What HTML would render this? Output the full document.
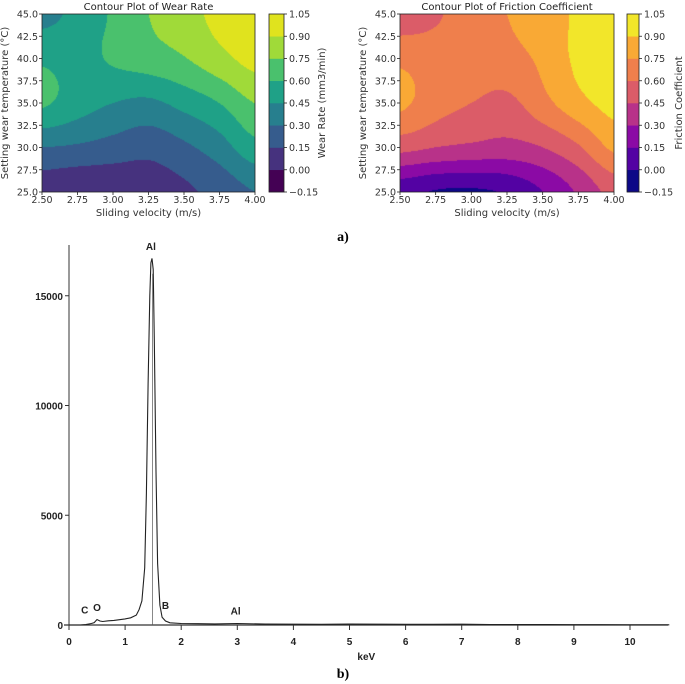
<!DOCTYPE html>
<html><head><meta charset="utf-8"><style>
html,body{margin:0;padding:0;background:#fff;}
#wrap{position:relative;width:685px;height:684px;overflow:hidden;font-family:"DejaVu Sans","Liberation Sans",sans-serif;}
canvas{position:absolute;}
svg{position:absolute;left:0;top:0;}
</style></head><body>
<div id="wrap">
<canvas id="c1" width="213" height="178" style="left:42px;top:14px"></canvas>
<canvas id="c2" width="214" height="178" style="left:400px;top:14px"></canvas>
<svg id="s" width="685" height="684"></svg>
</div>
<script>
// ---- data ----
const gridX = [2.5,2.75,3.0,3.25,3.5,3.75,4.0];
const gridY = [25,30,35,40,45];
const wearRows = [
 [0.05,0.01,0.02,0.06,0.12,0.20,0.30],
 [0.30,0.28,0.24,0.20,0.27,0.38,0.55],
 [0.62,0.52,0.45,0.42,0.50,0.60,0.75],
 [0.58,0.55,0.62,0.68,0.74,0.85,0.95],
 [0.40,0.50,0.62,0.75,0.83,0.95,1.00]];
const fricRows = [
 [0.05,-0.01,-0.02,0.02,0.15,0.32,0.50],
 [0.50,0.45,0.42,0.40,0.45,0.58,0.78],
 [0.78,0.66,0.60,0.56,0.70,0.85,0.95],
 [0.72,0.67,0.67,0.70,0.78,0.93,0.98],
 [0.50,0.58,0.68,0.75,0.82,0.92,0.95]];
const levels = [-0.15,0,0.15,0.30,0.45,0.60,0.75,0.90,1.05];
const levelLabels = ["\u22120.15","0.00","0.15","0.30","0.45","0.60","0.75","0.90","1.05"];
const viridis = ["#440154","#46327e","#365c8d","#277f8e","#1fa187","#4ac16d","#a0da39","#e0e31e"];
const plasma = ["#0d0887","#5302a3","#8b0aa5","#b83289","#db5c68","#ef7f4c","#f9a935","#f2e62a"];
const xTicks = ["2.50","2.75","3.00","3.25","3.50","3.75","4.00"];
const yTicks = ["25.0","27.5","30.0","32.5","35.0","37.5","40.0","42.5","45.0"];
const keV = [0,0.2,0.3,0.4,0.45,0.5,0.55,0.6,0.7,0.8,0.9,1.0,1.1,1.2,1.25,1.3,1.35,1.38,1.41,1.44,1.46,1.48,1.50,1.52,1.55,1.58,1.62,1.66,1.72,1.8,2.0,2.3,2.6,3.0,3.5,4.0,4.5,5.0,5.5,6.0,6.5,7.0,7.5,8.0,8.5,9.0,9.5,10.0,10.7];
const counts = [0,0,20,70,110,250,180,160,190,210,240,280,330,450,700,1100,2600,6000,11000,15000,16500,16700,16200,13000,7000,2800,900,350,180,100,70,60,50,70,40,35,30,40,35,30,30,35,25,20,20,15,15,10,10];
const spYTicks = [0,5000,10000,15000];
const spXTicks = [0,1,2,3,4,5,6,7,8,9,10];

// ---- contour rendering ----
function cr(p0,p1,p2,p3,t){return 0.5*((2*p1)+(-p0+p2)*t+(2*p0-5*p1+4*p2-p3)*t*t+(-p0+3*p1-3*p2+p3)*t*t*t);}
function interp(rows,gx,gy){
  const ny=rows.length,nx=rows[0].length;
  const ix=Math.min(Math.floor(gx),nx-2),iy=Math.min(Math.floor(gy),ny-2);
  const tx=gx-ix,ty=gy-iy;
  const g=(r,c)=>rows[Math.max(0,Math.min(ny-1,r))][Math.max(0,Math.min(nx-1,c))];
  const col=[];
  for(let k=-1;k<=2;k++){col.push(cr(g(iy+k,ix-1),g(iy+k,ix),g(iy+k,ix+1),g(iy+k,ix+2),tx));}
  return cr(col[0],col[1],col[2],col[3],ty);
}
function hex(c){return [parseInt(c.slice(1,3),16),parseInt(c.slice(3,5),16),parseInt(c.slice(5,7),16)];}
function drawContour(id,rows,cmap){
  const cv=document.getElementById(id),ctx=cv.getContext('2d');
  const w=cv.width,h=cv.height,img=ctx.createImageData(w,h);
  const cols=cmap.map(hex);
  for(let j=0;j<h;j++)for(let i=0;i<w;i++){
    const xv=gridX[0]+(gridX[gridX.length-1]-gridX[0])*i/(w-1);
    const yv=gridY[gridY.length-1]-(gridY[gridY.length-1]-gridY[0])*j/(h-1);
    const gx=(xv-gridX[0])/(gridX[1]-gridX[0]),gy=(yv-gridY[0])/(gridY[1]-gridY[0]);
    const v=interp(rows,gx,gy);
    let b=0;for(let k=1;k<levels.length-1;k++)if(v>=levels[k])b=k;
    const c=cols[b],p=(j*w+i)*4;
    img.data[p]=c[0];img.data[p+1]=c[1];img.data[p+2]=c[2];img.data[p+3]=255;
  }
  ctx.putImageData(img,0,0);
}
drawContour('c1',wearRows,viridis);
drawContour('c2',fricRows,plasma);

// ---- svg ----
const svg=document.getElementById('s');const NS='http://www.w3.org/2000/svg';
function el(tag,attrs,parent){const e=document.createElementNS(NS,tag);for(const k in attrs)e.setAttribute(k,attrs[k]);(parent||svg).appendChild(e);return e;}
function txt(s,attrs,name){const e=el('text',attrs);e.textContent=s;


return e;}

function panel(px,pw,cbx,cbw,cmap,title,cbLabel,cbLabelX,pre){
  const top=14,bot=192,ph=bot-top;
  const frame=el('rect',{x:px,y:top,width:pw,height:ph,fill:'none',stroke:'#222','stroke-width':0.8});
  
  
  txt(title,{x:px+pw/2,y:10,'font-size':10,'text-anchor':'middle',fill:'#222'},pre+'-title');
  xTicks.forEach((t,i)=>{const x=px+pw*i/(xTicks.length-1);
    el('line',{x1:x,x2:x,y1:bot,y2:bot+3,stroke:'#222','stroke-width':0.8});
    txt(t,{x:x,y:bot+11,'font-size':9.5,'text-anchor':'middle',fill:'#333'},pre+'-x-tick-label');});
  yTicks.forEach((t,i)=>{const y=bot-ph*i/(yTicks.length-1);
    el('line',{x1:px-3,x2:px,y1:y,y2:y,stroke:'#222','stroke-width':0.8});
    txt(t,{x:px-4,y:y+3.5,'font-size':9.5,'text-anchor':'end',fill:'#333'},pre+'-y-tick-label');});
  txt('Sliding velocity (m/s)',{x:px+pw/2,y:bot+24,'font-size':10,'text-anchor':'middle',fill:'#333'},pre+'-x-axis-title');
  txt('Setting wear temperature (\u00b0C)',{x:0,y:0,'font-size':10,'text-anchor':'middle',fill:'#333',transform:`translate(${px-34},${top+ph/2}) rotate(-90)`},pre+'-y-axis-title');
  for(let k=0;k<cmap.length;k++){
    const y1=bot-ph*(levels[k+1]-levels[0])/(levels[levels.length-1]-levels[0]);
    const y0=bot-ph*(levels[k]-levels[0])/(levels[levels.length-1]-levels[0]);
    const r=el('rect',{x:cbx,y:y1,width:cbw,height:y0-y1+0.3,fill:cmap[k]});
    
    
  }
  el('rect',{x:cbx,y:top,width:cbw,height:ph,fill:'none',stroke:'#222','stroke-width':0.8});
  levelLabels.forEach((t,i)=>{const y=bot-ph*i/(levelLabels.length-1);
    el('line',{x1:cbx+cbw,x2:cbx+cbw+3,y1:y,y2:y,stroke:'#222','stroke-width':0.8});
    txt(t,{x:cbx+cbw+5,y:y+3.5,'font-size':9.5,fill:'#333'},pre+'-colorbar-tick-label');});
  txt(cbLabel,{x:0,y:0,'font-size':10,'text-anchor':'middle',fill:'#333',transform:`translate(${cbLabelX},${top+ph/2}) rotate(-90)`},pre+'-colorbar-title');
}
panel(42,213,269,15,viridis,'Contour Plot of Wear Rate','Wear Rate (mm3/min)',325,'wear');
panel(400,214,627,12,plasma,'Contour Plot of Friction Coefficient','Friction Coefficient',682,'friction');
txt('a)',{x:343,y:241,'font-size':14,'font-weight':'bold','font-family':'Liberation Serif,serif','text-anchor':'middle'},'panel-a-label');

// spectrum
const sx=e=>69+e*56.1, sy=c=>625-c*219.5/10000;
const nf='"Liberation Sans Narrow","Liberation Sans",sans-serif';
el('line',{x1:69,x2:69,y1:245,y2:625,stroke:'#333','stroke-width':1});
el('line',{x1:64,x2:668,y1:625,y2:625,stroke:'#333','stroke-width':1.2});
spYTicks.forEach(v=>{const y=sy(v);el('line',{x1:65,x2:69,y1:y,y2:y,stroke:'#333'});
  txt(String(v),{x:63,y:y+4,'font-size':10,'font-weight':'bold','font-family':nf,'text-anchor':'end',fill:'#222'},'spectrum-y-tick-label');});
spXTicks.forEach(v=>{const x=sx(v);el('line',{x1:x,x2:x,y1:625,y2:630,stroke:'#333'});
  txt(String(v),{x:x,y:645,'font-size':10,'font-weight':'bold','font-family':nf,'text-anchor':'middle',fill:'#222'},'spectrum-x-tick-label');});
txt('keV',{x:sx(5.3),y:660,'font-size':10,'font-weight':'bold','font-family':nf,'text-anchor':'middle',fill:'#222'},'spectrum-x-axis-title');
let d='';keV.forEach((e,i)=>{d+=(i?'L':'M')+sx(e).toFixed(1)+','+sy(counts[i]).toFixed(1);});
const path=el('path',{d:d,fill:'none',stroke:'#222','stroke-width':1.1});


el('line',{x1:sx(1.49),x2:sx(1.49),y1:sy(16000),y2:625,stroke:'#555','stroke-width':0.7});
const ann=[['Al',1.46,16900],['C',0.28,350],['O',0.5,450],['B',1.72,550],['Al',2.97,300]];
ann.forEach(a=>txt(a[0],{x:sx(a[1]),y:sy(a[2])-4,'font-size':10,'font-weight':'bold','font-family':nf,'text-anchor':'middle',fill:'#222'},'peak-label-'+a[0].toLowerCase()));
txt('b)',{x:343,y:678,'font-size':14,'font-weight':'bold','font-family':'Liberation Serif,serif','text-anchor':'middle'},'panel-b-label');
</script>
</body></html>
